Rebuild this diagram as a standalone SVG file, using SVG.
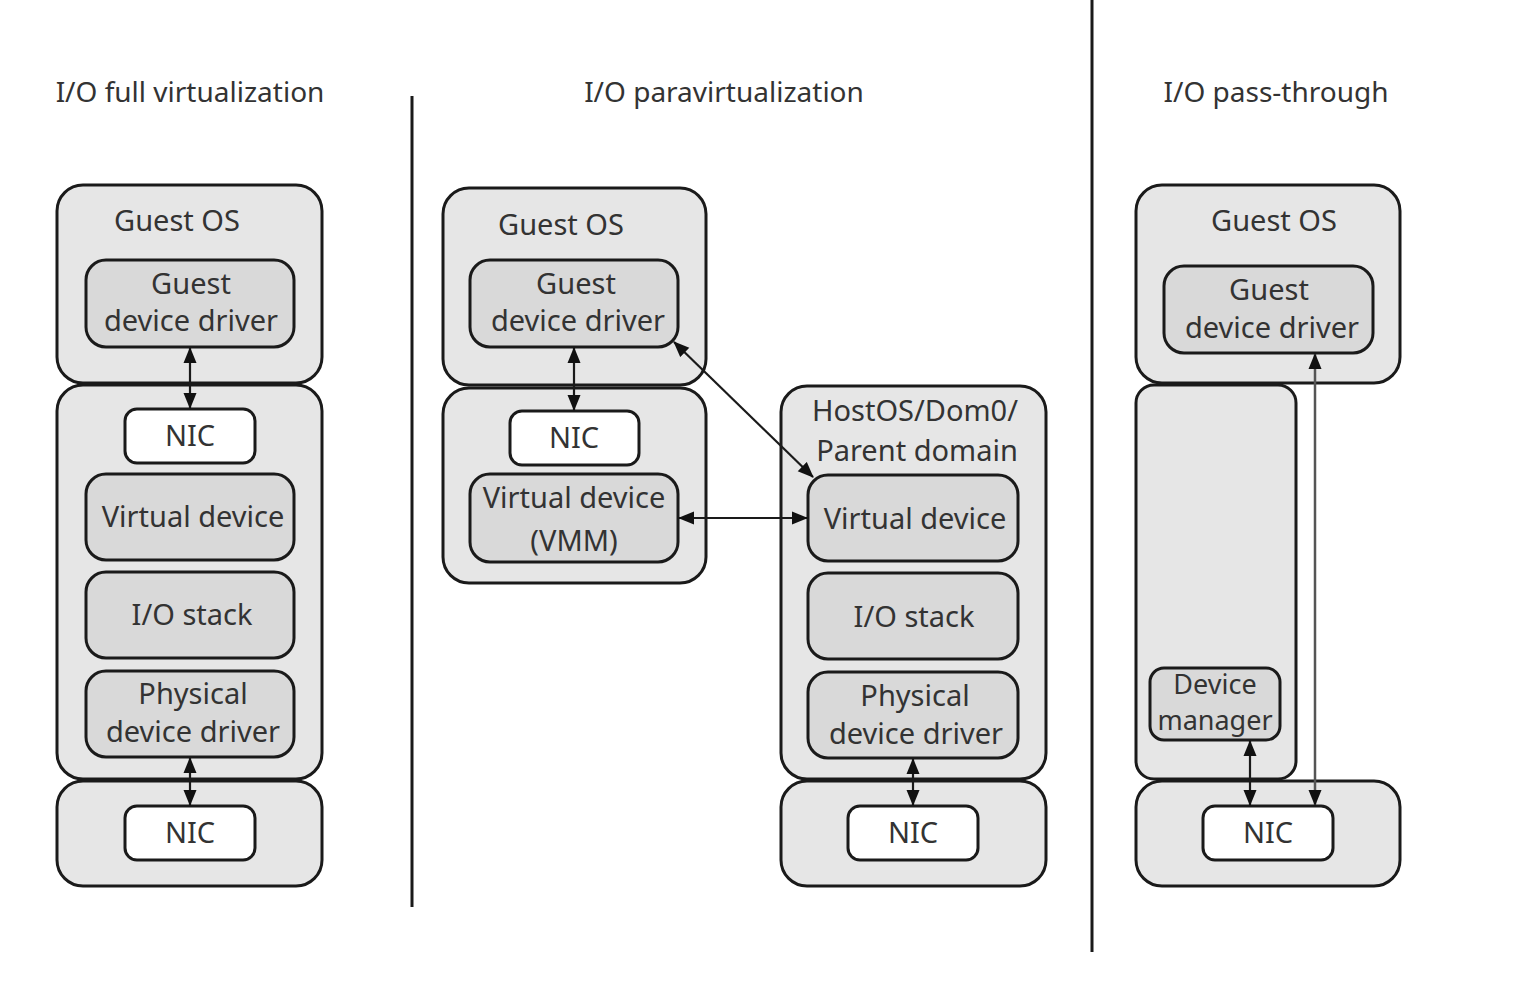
<svg xmlns="http://www.w3.org/2000/svg" width="1526" height="994" viewBox="0 0 1526 994">
<style>
.o{fill:#e6e6e6;stroke:#1a1a1a;stroke-width:3}
.i{fill:#d9d9d9;stroke:#1a1a1a;stroke-width:3}
.w{fill:#ffffff;stroke:#1a1a1a;stroke-width:3}
text{font-family:"Noto Sans","Open Sans",sans-serif;font-size:29px;fill:#333;text-anchor:middle}
.t{font-size:28px}
.s{font-size:27px}
.c{stroke:#1a1a1a;stroke-width:2.2;fill:none}
.g{stroke:#555;stroke-width:2.5;fill:none}
.sep{stroke:#1a1a1a;stroke-width:3}
</style>
<defs>
<marker id="a" markerWidth="16" markerHeight="14" refX="15" refY="7" orient="auto-start-reverse" markerUnits="userSpaceOnUse">
<path d="M0,0.5 L16,7 L0,13.5 Z" fill="#111"/>
</marker>
</defs>
<rect width="1526" height="994" fill="#fff"/>
<g id="titles">
<text class="t" x="190" y="102">I/O full virtualization</text>
<text class="t" x="724" y="102">I/O paravirtualization</text>
<text class="t" x="1276" y="102">I/O pass-through</text>
</g>
<g id="separators">
<line class="sep" x1="412" y1="96" x2="412" y2="907"/>
<line class="sep" x1="1092" y1="0" x2="1092" y2="952"/>
</g>
<!-- Column 1 -->
<g id="c1-guestos"><rect class="o" x="57" y="185" width="265" height="198" rx="26"/><text x="177" y="231">Guest OS</text></g>
<g id="c1-gdd"><rect class="i" x="86" y="260" width="208" height="87" rx="20"/><text x="191" y="294">Guest</text><text x="191" y="331">device driver</text></g>
<g id="c1-vmm"><rect class="o" x="57" y="385" width="265" height="394" rx="26"/></g>
<g id="c1-nic"><rect class="w" x="125" y="409" width="130" height="54" rx="12"/><text x="190" y="446">NIC</text></g>
<g id="c1-vd"><rect class="i" x="86" y="474" width="208" height="86" rx="20"/><text x="193" y="527">Virtual device</text></g>
<g id="c1-ios"><rect class="i" x="86" y="572" width="208" height="86" rx="20"/><text x="192" y="625">I/O stack</text></g>
<g id="c1-pdd"><rect class="i" x="86" y="671" width="208" height="86" rx="20"/><text x="193" y="704">Physical</text><text x="193" y="742">device driver</text></g>
<g id="c1-hw"><rect class="o" x="57" y="781" width="265" height="105" rx="26"/></g>
<g id="c1-nic2"><rect class="w" x="125" y="806" width="130" height="54" rx="12"/><text x="190" y="843">NIC</text></g>
<!-- Column 2 -->
<g id="c2-guestos"><rect class="o" x="443" y="188" width="263" height="197" rx="26"/><text x="561" y="235">Guest OS</text></g>
<g id="c2-gdd"><rect class="i" x="470" y="260" width="208" height="87" rx="20"/><text x="576" y="294">Guest</text><text x="578" y="331">device driver</text></g>
<g id="c2-vm"><rect class="o" x="443" y="388" width="263" height="195" rx="26"/></g>
<g id="c2-nic"><rect class="w" x="510" y="411" width="129" height="54" rx="12"/><text x="574" y="448">NIC</text></g>
<g id="c2-vdvmm"><rect class="i" x="470" y="474" width="208" height="88" rx="20"/><text x="574" y="508">Virtual device</text><text x="574" y="551">(VMM)</text></g>
<g id="c2-host"><rect class="o" x="781" y="386" width="265" height="393" rx="26"/><text x="915" y="421">HostOS/Dom0/</text><text x="917" y="461">Parent domain</text></g>
<g id="c2-vd"><rect class="i" x="808" y="475" width="210" height="86" rx="20"/><text x="915" y="529">Virtual device</text></g>
<g id="c2-ios"><rect class="i" x="808" y="573" width="210" height="86" rx="20"/><text x="914" y="627">I/O stack</text></g>
<g id="c2-pdd"><rect class="i" x="808" y="672" width="210" height="86" rx="20"/><text x="915" y="706">Physical</text><text x="916" y="744">device driver</text></g>
<g id="c2-hw"><rect class="o" x="781" y="781" width="265" height="105" rx="26"/></g>
<g id="c2-nic2"><rect class="w" x="848" y="806" width="130" height="54" rx="12"/><text x="913" y="843">NIC</text></g>
<!-- Column 3 -->
<g id="c3-guestos"><rect class="o" x="1136" y="185" width="264" height="198" rx="26"/><text x="1274" y="231">Guest OS</text></g>
<g id="c3-gdd"><rect class="i" x="1164" y="266" width="209" height="87" rx="20"/><text x="1269" y="300">Guest</text><text x="1272" y="338">device driver</text></g>
<g id="c3-host"><rect class="o" x="1136" y="385" width="160" height="394" rx="18"/></g>
<g id="c3-dm"><rect class="i" x="1150" y="668" width="130" height="72" rx="14"/><text class="s" x="1215" y="694">Device</text><text class="s" x="1215" y="730">manager</text></g>
<g id="c3-hw"><rect class="o" x="1136" y="781" width="264" height="105" rx="26"/></g>
<g id="c3-nic"><rect class="w" x="1203" y="806" width="130" height="54" rx="12"/><text x="1268" y="843">NIC</text></g>
<g id="connectors">
<line class="c" x1="190" y1="348" x2="190" y2="408" marker-start="url(#a)" marker-end="url(#a)"/>
<line class="c" x1="190" y1="758" x2="190" y2="805" marker-start="url(#a)" marker-end="url(#a)"/>
<line class="c" x1="574" y1="348" x2="574" y2="410" marker-start="url(#a)" marker-end="url(#a)"/>
<line class="c" x1="674" y1="342" x2="813" y2="477" marker-start="url(#a)" marker-end="url(#a)"/>
<line class="c" x1="679" y1="518" x2="807" y2="518" marker-start="url(#a)" marker-end="url(#a)"/>
<line class="c" x1="913" y1="759" x2="913" y2="805" marker-start="url(#a)" marker-end="url(#a)"/>
<line class="c" x1="1250" y1="741" x2="1250" y2="805" marker-start="url(#a)" marker-end="url(#a)"/>
<line class="g" x1="1315" y1="354" x2="1315" y2="805" marker-start="url(#a)" marker-end="url(#a)"/>
</g>
</svg>
